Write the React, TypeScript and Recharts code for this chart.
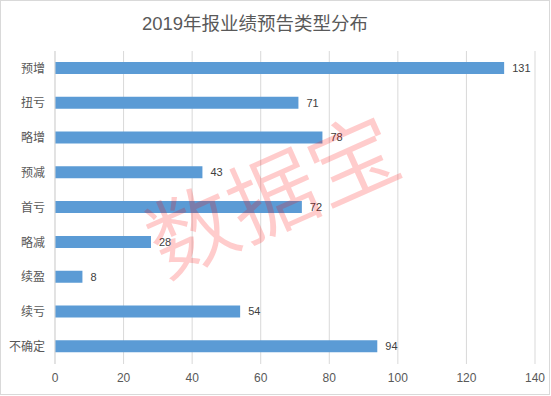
import React from "react";
import { BarChart, Bar, XAxis, YAxis, CartesianGrid, LabelList } from "recharts";

const categories = ["预增", "扭亏", "略增", "预减", "首亏", "略减", "续盈", "续亏", "不确定"];
const counts = [131, 71, 78, 43, 72, 28, 8, 54, 94];
const xTicks = [0, 20, 40, 60, 80, 100, 120, 140];
const title = "2019年报业绩预告类型分布";
const watermark = "数据宝";

const data = categories.map((name, i) => ({ name, value: counts[i] }));

const FONT = "'Liberation Sans', 'Noto Sans CJK SC', sans-serif";

export default function App() {
  return (
    <div style={{ position: "absolute", left: 0, top: 0, width: 551, height: 396, background: "#fff" }}>
      <BarChart
        width={551}
        height={396}
        data={data}
        layout="vertical"
        margin={{ top: 51, right: 16, bottom: 0, left: 0 }}
        barCategoryGap={0}
      >
        <CartesianGrid horizontal={false} vertical={true} stroke="#d9d9d9" strokeWidth={1} />
        <XAxis
          type="number"
          domain={[0, 140]}
          ticks={xTicks}
          height={32}
          axisLine={false}
          tickLine={false}
          tickSize={0}
          tickMargin={9}
          tick={{ fill: "#595959", fontSize: 12, fontFamily: FONT }}
          interval={0}
        />
        <YAxis
          type="category"
          dataKey="name"
          width={55}
          axisLine={{ stroke: "#d9d9d9" }}
          tickLine={false}
          tickSize={0}
          tickMargin={10}
          tick={{ fill: "#595959", fontSize: 12, fontFamily: FONT }}
          interval={0}
        />
        <Bar dataKey="value" fill="#5b9bd5" barSize={12} isAnimationActive={false}>
          <LabelList
            dataKey="value"
            position="right"
            offset={8}
            fill="#404040"
            fontSize={11}
            fontFamily={FONT}
          />
        </Bar>
      </BarChart>
      <svg
        width={551}
        height={396}
        style={{ position: "absolute", left: 0, top: 0, pointerEvents: "none" }}
      >
        <text
          x={255}
          y={23}
          textAnchor="middle"
          dominantBaseline="central"
          fontSize={18.5}
          fill="#595959"
          fontFamily={FONT}
        >
          {title}
        </text>
        <text
          x={270}
          y={190}
          textAnchor="middle"
          dominantBaseline="central"
          fontSize={88}
          fontWeight={350}
          fill="#ff0000"
          fillOpacity={0.2}
          fontFamily="'Noto Sans CJK SC', sans-serif"
          transform="rotate(-24 270 190)"
        >
          {watermark}
        </text>
      </svg>
      <div
        style={{
          position: "absolute",
          left: 0,
          top: 0,
          width: 550,
          height: 395,
          boxSizing: "border-box",
          border: "1px solid #d9d9d9",
          pointerEvents: "none",
        }}
      />
    </div>
  );
}
